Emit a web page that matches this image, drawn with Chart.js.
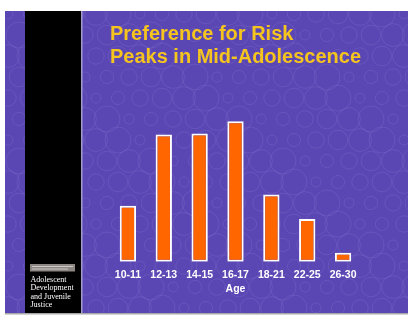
<!DOCTYPE html>
<html>
<head>
<meta charset="utf-8">
<script src="https://cdn.jsdelivr.net/npm/chart.js@4"></script>
<style>
  html, body { margin: 0; padding: 0; background: #fff; }
  #wrap { width: 410px; height: 319px; }
</style>
</head>
<body>
<div id="wrap"><canvas id="riskChart" width="410" height="319"></canvas></div>
<script>
  // Dati
  const ageGroups = ['10-11', '12-13', '14-15', '16-17', '18-21', '22-25', '26-30'];
  const riskPreference = [55, 125, 126, 138, 66, 42, 9];
  const titleLines = ['Preference for Risk', 'Peaks in Mid-Adolescence'];
  const logoLines = ['Adolescent', 'Development', 'and Juvenile', 'Justice'];

  // Sfondo della diapositiva (viola con cerchi, banda nera, logo)
  const slideBackground = {
    id: 'slideBackground',
    beforeDraw(chart) {
      const ctx = chart.ctx;
      ctx.save();
      ctx.fillStyle = '#ffffff';
      ctx.fillRect(0, 0, chart.width, chart.height);

      ctx.fillStyle = '#5b47b3';
      ctx.fillRect(5, 11, 403, 302);

      // cerchi decorativi
      ctx.beginPath();
      ctx.rect(5, 11, 403, 302);
      ctx.clip();
      ctx.strokeStyle = 'rgba(200, 190, 255, 0.11)';
      ctx.lineWidth = 1;
      for (let i = 0; i < 20; i++) {
        for (let j = 0; j < 15; j++) {
          const cx = 8 + i * 22 + (j % 2) * 11;
          const cy = 14 + j * 21;
          const r = 5 + ((i * 7 + j * 11) % 6) * 1.6;
          ctx.beginPath();
          ctx.arc(cx, cy, r, 0, Math.PI * 2);
          ctx.stroke();
        }
      }
      ctx.restore();

      ctx.save();
      ctx.fillStyle = '#000000';
      ctx.fillRect(25, 11, 56, 302);
      ctx.fillStyle = '#a39bd0';
      ctx.fillRect(81, 11, 1.5, 302);

      // logo
      ctx.fillStyle = '#8c8782';
      ctx.fillRect(30, 264, 45, 7.5);
      ctx.fillStyle = 'rgba(255,255,255,0.55)';
      ctx.fillRect(32, 266, 41, 1);
      ctx.fillRect(32, 268.5, 36, 1);
      ctx.fillStyle = '#ffffff';
      ctx.font = '8px "Liberation Serif"';
      ctx.textBaseline = 'middle';
      logoLines.forEach((t, k) => ctx.fillText(t, 30.5, 280 + k * 8.4));

      // bordo inferiore
      ctx.fillStyle = '#a8a8a8';
      ctx.fillRect(5, 313, 403, 1.5);
      ctx.restore();
    }
  };

  new Chart(document.getElementById('riskChart').getContext('2d'), {
    type: 'bar',
    data: {
      labels: ageGroups,
      datasets: [{
        label: 'Preference for Risk',
        data: riskPreference,
        backgroundColor: '#ff6600',
        borderColor: '#ffffff',
        borderWidth: 2,
        borderSkipped: false,
        barPercentage: 0.455,
        categoryPercentage: 1,
      }],
    },
    options: {
      responsive: false,
      animation: false,
      layout: {
        padding: { left: 110, right: 49, top: 0, bottom: 20 },
      },
      plugins: {
        legend: { display: false },
        tooltip: { enabled: false },
        title: {
          display: true,
          text: titleLines,
          align: 'start',
          color: '#f5c51e',
          font: { family: 'Liberation Sans', size: 20, weight: 'bold', lineHeight: 1.15 },
          padding: { top: 23, bottom: 40 },
        },
      },
      scales: {
        x: {
          grid: { display: false, drawTicks: false },
          border: { display: false },
          ticks: {
            color: '#ffffff',
            padding: 7,
            font: { family: 'Liberation Sans', size: 10.5, weight: 'bold' },
          },
          title: {
            display: true,
            text: 'Age',
            color: '#ffffff',
            font: { family: 'Liberation Sans', size: 10.5, weight: 'bold' },
            padding: { top: -6, bottom: 4 },
          },
        },
        y: {
          display: false,
          min: 0,
          max: 150,
        },
      },
    },
    plugins: [slideBackground],
  });
</script>
</body>
</html>
